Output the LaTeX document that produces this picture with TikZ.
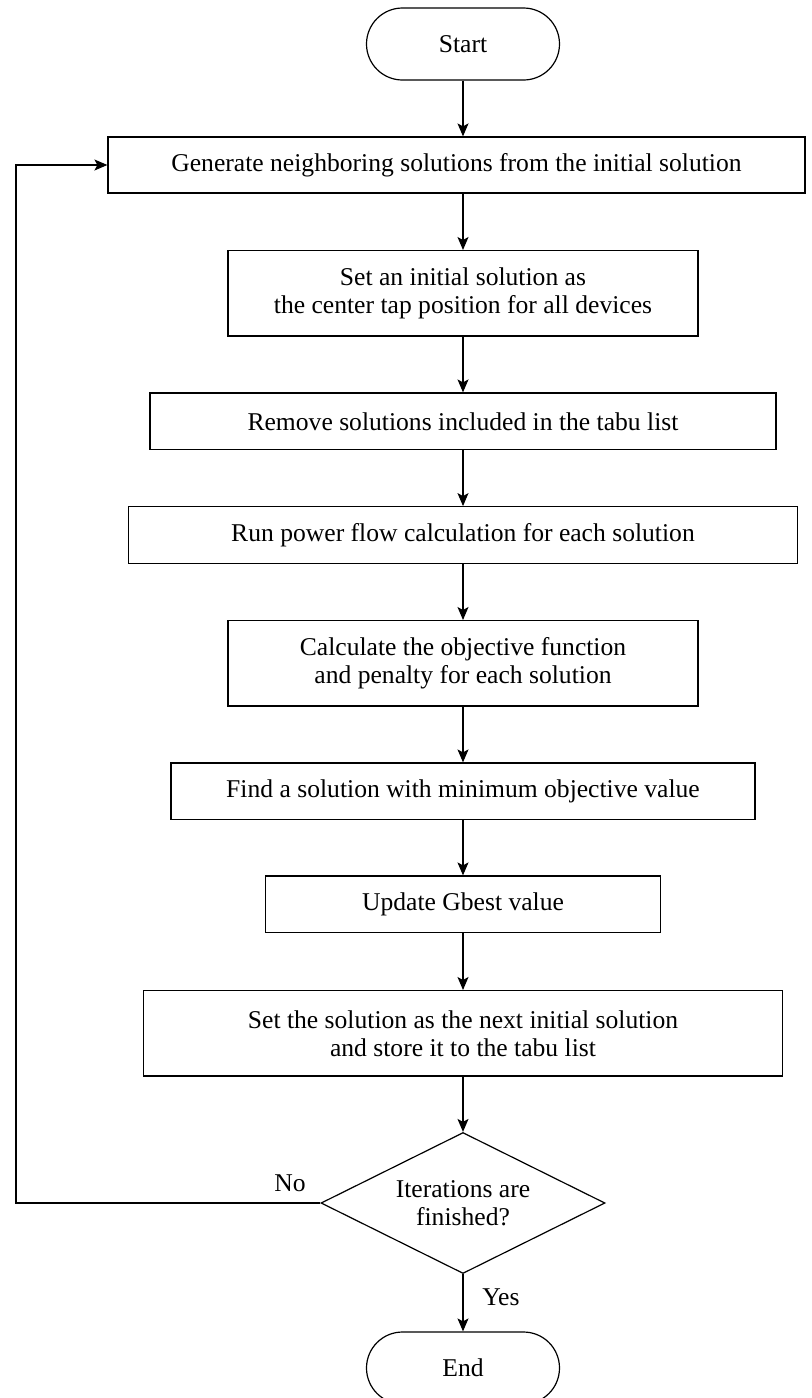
\documentclass[tikz,border=0pt]{standalone}
\usepackage{fontspec}
\setmainfont{Liberation Serif}
\usetikzlibrary{shapes.geometric,arrows.meta}

\begin{document}
\begin{tikzpicture}[x=0.5pt,y=-0.5pt,
    font=\fontsize{12.8}{14}\selectfont,
    terminal/.style={draw, line width=0.6pt, rounded corners=18pt, minimum width=96.5pt, minimum height=36pt, align=center},
    process/.style={draw, line width=0.6pt, minimum height=28.3pt, align=center},
    tallproc/.style={process, minimum height=42.7pt},
    decision/.style={draw, line width=0.6pt, diamond, aspect=2, inner sep=0pt, minimum width=142pt, minimum height=70.5pt, align=center},
    line/.style={draw, line width=0.6pt, -{Stealth[length=6.5pt,width=5.5pt,inset=1.5pt]}}]
\useasboundingbox (0,0) rectangle (811,1398);

% Nodes
\node[terminal] (start) at (463,44) {Start};
\node[process, minimum width=348.5pt, minimum height=28pt] (gen) at (456.5,165) {Generate neighboring solutions from the initial solution};
\node[tallproc, minimum width=235pt] (init) at (463,293.3) {Set an initial solution as\\the center tap position for all devices};
\node[process, minimum width=313pt] (remove) at (463,421.3) {Remove solutions included in the tabu list};
\node[process, minimum width=334.3pt] (flow) at (463,535) {Run power flow calculation for each solution};
\node[tallproc, minimum width=235pt] (obj) at (463,663.3) {Calculate the objective function\\ and penalty for each solution};
\node[process, minimum width=292pt] (find) at (463,791.3) {Find a solution with minimum objective value};
\node[process, minimum width=197.5pt] (update) at (463,904.3) {Update Gbest value};
\node[tallproc, minimum width=319.5pt] (next) at (463,1033.3) {Set the solution as the next initial solution\\ and store it to the tabu list};
\node[decision] (iter) at (463,1203) {Iterations are\\finished?};
\node[terminal] (stop) at (463,1368) {End};

% Main flow
\draw[line] (start) -- (start|-gen.north);
\draw[line] (gen.south-|init) -- (init);
\draw[line] (init) -- (remove);
\draw[line] (remove) -- (flow);
\draw[line] (flow) -- (obj);
\draw[line] (obj) -- (find);
\draw[line] (find) -- (update);
\draw[line] (update) -- (next);
\draw[line] (next) -- (iter);
\draw[line] (iter) -- node[right=6pt, pos=0.4] {Yes} (stop);

% Loop back
\coordinate (back) at (16,1203);
\draw[line] (iter.west) -- node[above=2pt, pos=0.1] {No} (back) |- (gen.west);
\end{tikzpicture}
\end{document}
